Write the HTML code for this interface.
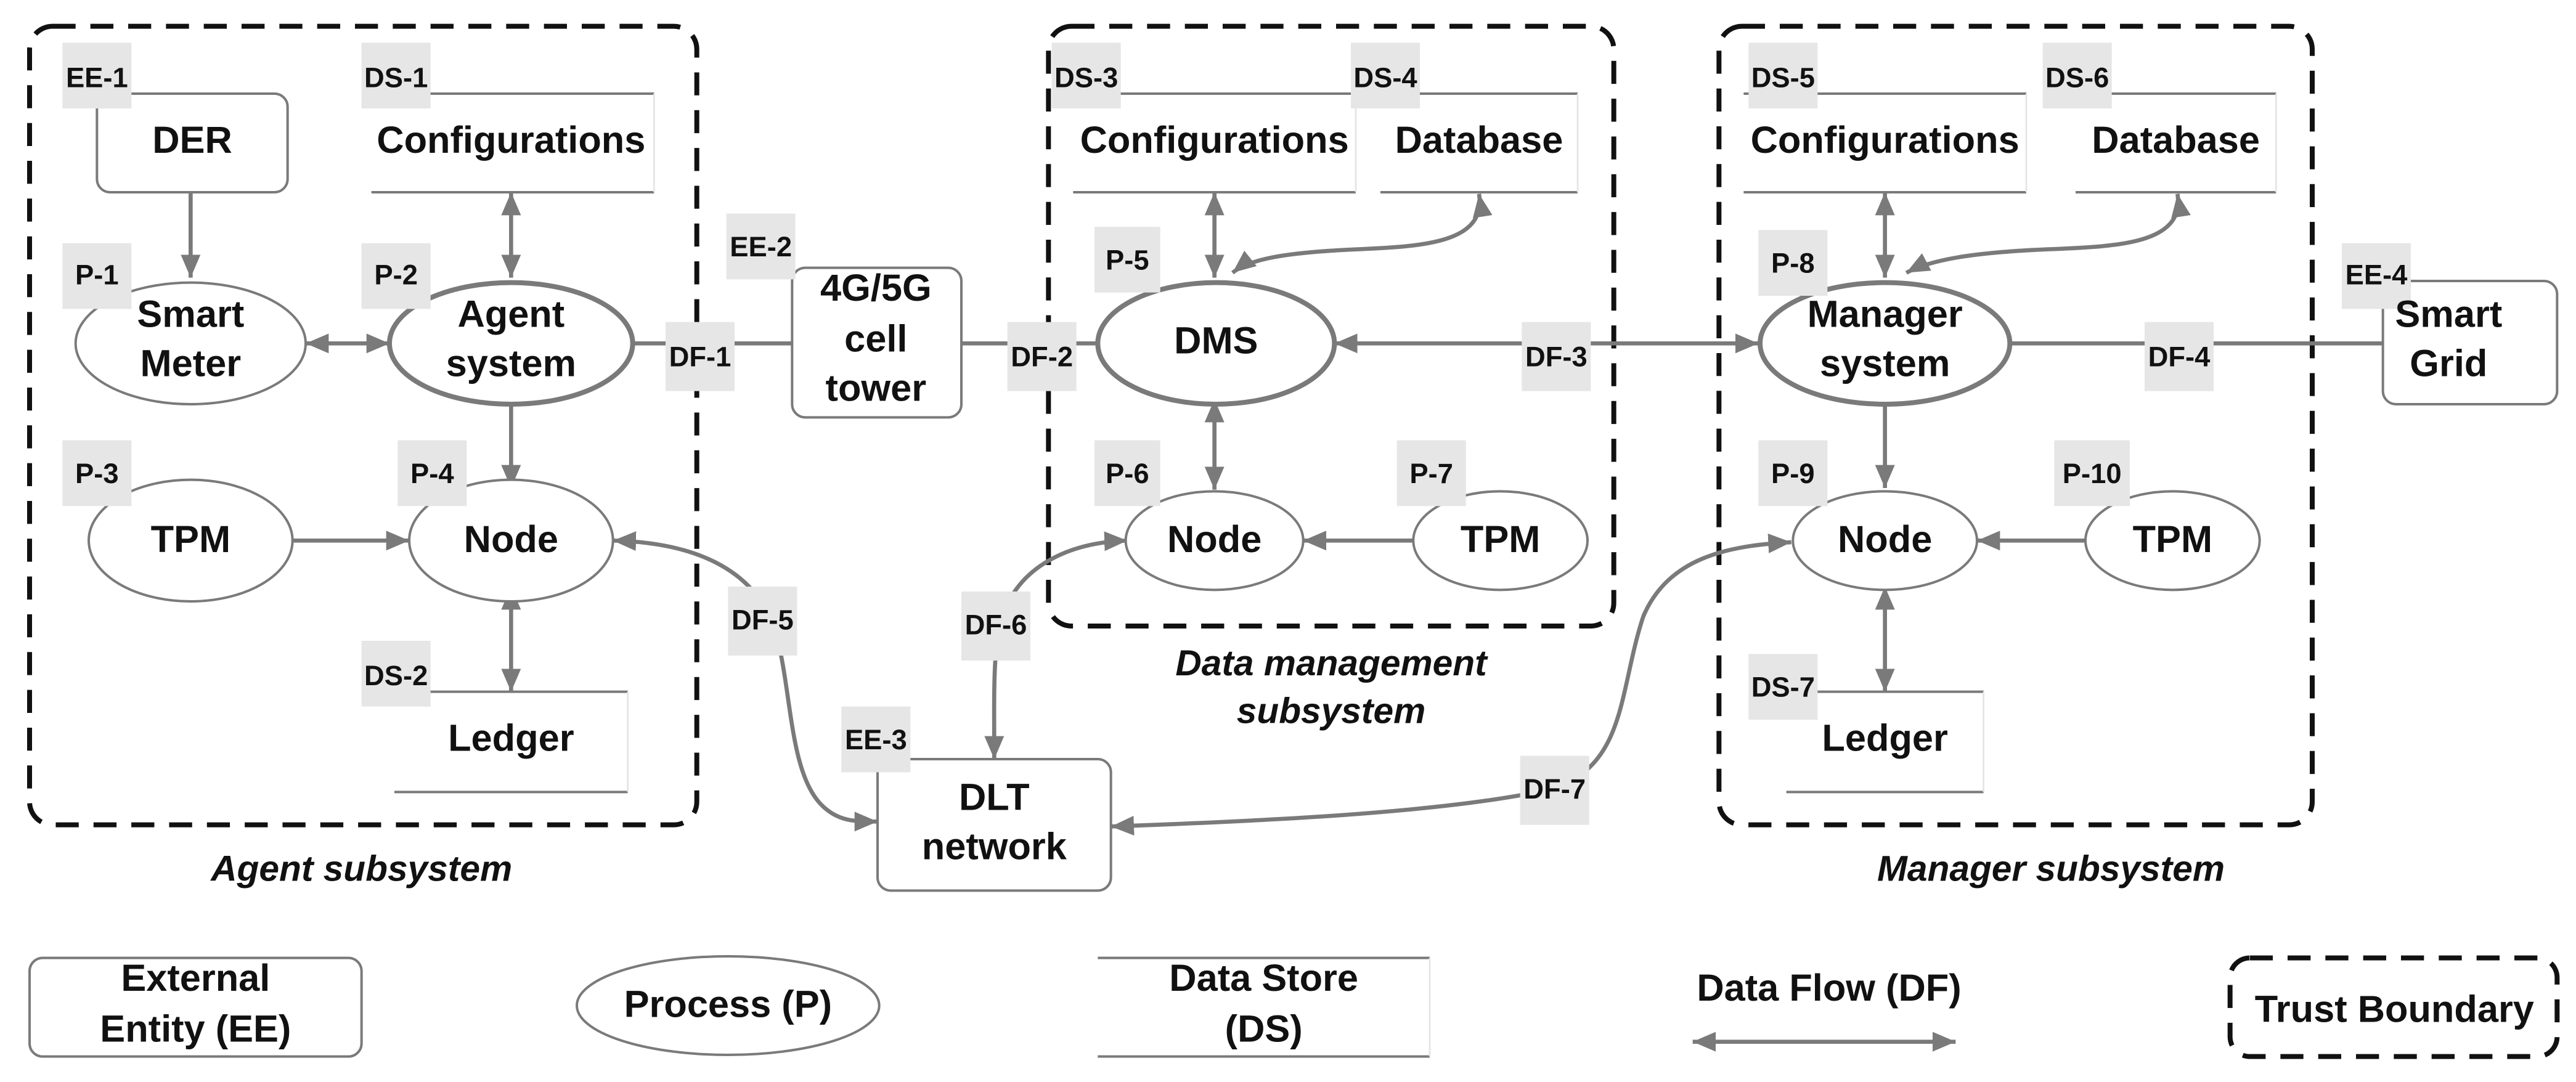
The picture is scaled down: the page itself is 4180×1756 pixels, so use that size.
<!DOCTYPE html>
<html><head><meta charset="utf-8"><style>html,body{margin:0;padding:0;background:#fff}svg{display:block}</style></head>
<body>
<svg width="4180" height="1756" viewBox="0 0 1567.5 658.5" xmlns="http://www.w3.org/2000/svg" font-family="Liberation Sans, Arial, sans-serif" font-weight="bold">
<defs>
<marker id="a" viewBox="0 0 14 12" refX="14" refY="6" markerWidth="14" markerHeight="12" markerUnits="userSpaceOnUse" orient="auto-start-reverse"><path d="M0,0 L14,6 L0,12 z" fill="#7a7a7a"/></marker>
</defs>
<rect width="1567.5" height="658.5" fill="#fff"/>
<g fill="none" stroke="#111" stroke-width="3" stroke-dasharray="14,9">
<rect x="18" y="16" width="406" height="486" rx="14"/>
<rect x="638" y="16" width="344" height="365" rx="14"/>
<rect x="1046" y="16" width="361" height="486" rx="14"/>
<rect x="1357" y="583" width="199" height="60" rx="12"/>
</g>
<g font-style="italic" font-size="22" text-anchor="middle" fill="#111">
<text x="220" y="536">Agent subsystem</text>
<text x="810" y="411">Data management</text>
<text x="810" y="440">subsystem</text>
<text x="1248" y="536">Manager subsystem</text>
</g>
<g fill="none" stroke="#7a7a7a" stroke-width="2.5">
<path d="M116,117 V169" marker-end="url(#a)"/>
<path d="M311,117 V169" marker-start="url(#a)" marker-end="url(#a)"/>
<path d="M186,209 H237" marker-start="url(#a)" marker-end="url(#a)"/>
<path d="M311,243 V297" marker-end="url(#a)"/>
<path d="M178,329 H249" marker-end="url(#a)"/>
<path d="M311,357 V421" marker-start="url(#a)" marker-end="url(#a)"/>
<path d="M385,209 H482"/>
<path d="M585,209 H668"/>
<path d="M739,117 V169" marker-start="url(#a)" marker-end="url(#a)"/>
<path d="M900,118 C905,150 860,150 820,152 C780,154 760,158 750,166" marker-start="url(#a)" marker-end="url(#a)"/>
<path d="M739,243 V298" marker-start="url(#a)" marker-end="url(#a)"/>
<path d="M860,329 H793" marker-end="url(#a)"/>
<path d="M812,209 H1070" marker-start="url(#a)" marker-end="url(#a)"/>
<path d="M1147,117 V169" marker-start="url(#a)" marker-end="url(#a)"/>
<path d="M1325,118 C1330,150 1285,150 1240,152 C1200,154 1175,158 1160,166" marker-start="url(#a)" marker-end="url(#a)"/>
<path d="M1147,243 V297" marker-end="url(#a)"/>
<path d="M1269,329 H1203" marker-end="url(#a)"/>
<path d="M1147,357 V421" marker-start="url(#a)" marker-end="url(#a)"/>
<path d="M1222,209 H1450"/>
<path d="M373,329 C420,330 460,345 472,385 C482,420 480,470 500,490 C510,500 520,500 534,500" marker-start="url(#a)" marker-end="url(#a)"/>
<path d="M686,329 C650,330 620,345 610,375 C604,395 605,420 605,462" marker-start="url(#a)" marker-end="url(#a)"/>
<path d="M676,503 C760,500 880,495 945,480 C990,465 985,420 1000,375 C1015,340 1050,332 1090,330" marker-start="url(#a)" marker-end="url(#a)"/>
<path d="M1030,634 H1190" marker-start="url(#a)" marker-end="url(#a)"/>
</g>
<g fill="#fff" stroke="#7a7a7a" stroke-width="1.5">
<rect x="59" y="57" width="116" height="60" rx="8"/>
<rect x="482" y="163" width="103" height="91" rx="8"/>
<rect x="1450" y="171" width="106" height="75" rx="8"/>
<rect x="534" y="462" width="142" height="80" rx="8"/>
<rect x="18" y="583" width="202" height="60" rx="8"/>
</g>
<g stroke="#7a7a7a" stroke-width="1.5">
<path d="M226,57 H398 M226,117 H398"/>
<path d="M240,421 H382 M240,482 H382"/>
<path d="M653,57 H825 M653,117 H825"/>
<path d="M840,57 H960 M840,117 H960"/>
<path d="M1061,57 H1233 M1061,117 H1233"/>
<path d="M1263,57 H1385 M1263,117 H1385"/>
<path d="M1087,421 H1207 M1087,482 H1207"/>
<path d="M668,583 H870 M668,643 H870"/>
</g>
<g fill="none" stroke="#e4e4e4" stroke-width="1">
<path d="M398,57 V117 M382,421 V482 M825,57 V117 M960,57 V117 M1233,57 V117 M1385,57 V117 M1207,421 V482 M870,583 V643"/>
</g>
<g fill="#fff" stroke="#7a7a7a">
<ellipse cx="116" cy="209" rx="70" ry="37" stroke-width="1.5"/>
<ellipse cx="311" cy="209" rx="74" ry="37" stroke-width="3"/>
<ellipse cx="116" cy="329" rx="62" ry="37" stroke-width="1.5"/>
<ellipse cx="311" cy="329" rx="62" ry="37" stroke-width="1.5"/>
<ellipse cx="740" cy="209" rx="72" ry="37" stroke-width="3"/>
<ellipse cx="739" cy="329" rx="54" ry="30" stroke-width="1.5"/>
<ellipse cx="913" cy="329" rx="53" ry="30" stroke-width="1.5"/>
<ellipse cx="1147" cy="209" rx="76" ry="37" stroke-width="3"/>
<ellipse cx="1147" cy="329" rx="56" ry="30" stroke-width="1.5"/>
<ellipse cx="1322" cy="329" rx="53" ry="30" stroke-width="1.5"/>
<ellipse cx="443" cy="612" rx="92" ry="30" stroke-width="1.5"/>
</g>
<g fill="#e6e6e6">
<rect x="38" y="26" width="42" height="40"/>
<rect x="220" y="26" width="42" height="40"/>
<rect x="38" y="148" width="42" height="40"/>
<rect x="220" y="148" width="42" height="40"/>
<rect x="38" y="268" width="42" height="40"/>
<rect x="242" y="268" width="42" height="40"/>
<rect x="220" y="390" width="42" height="40"/>
<rect x="442" y="130" width="42" height="40"/>
<rect x="405" y="196" width="42" height="42"/>
<rect x="613" y="196" width="42" height="42"/>
<rect x="640" y="26" width="42" height="40"/>
<rect x="822" y="26" width="42" height="40"/>
<rect x="666" y="138" width="40" height="40"/>
<rect x="666" y="268" width="40" height="40"/>
<rect x="850" y="268" width="42" height="40"/>
<rect x="926" y="196" width="42" height="42"/>
<rect x="1064" y="26" width="42" height="40"/>
<rect x="1243" y="26" width="42" height="40"/>
<rect x="1070" y="140" width="42" height="40"/>
<rect x="1425" y="148" width="42" height="40"/>
<rect x="1305" y="196" width="42" height="42"/>
<rect x="1070" y="268" width="42" height="40"/>
<rect x="1250" y="268" width="46" height="40"/>
<rect x="1064" y="398" width="42" height="40"/>
<rect x="512" y="430" width="42" height="40"/>
<rect x="443" y="357" width="42" height="42"/>
<rect x="585" y="360" width="42" height="42"/>
<rect x="925" y="460" width="42" height="42"/>
</g>
<g font-size="17" text-anchor="middle" fill="#111">
<text x="59" y="53">EE-1</text>
<text x="241" y="53">DS-1</text>
<text x="59" y="173">P-1</text>
<text x="241" y="173">P-2</text>
<text x="59" y="294">P-3</text>
<text x="263" y="294">P-4</text>
<text x="241" y="417">DS-2</text>
<text x="463" y="156">EE-2</text>
<text x="426" y="223">DF-1</text>
<text x="634" y="223">DF-2</text>
<text x="661" y="53">DS-3</text>
<text x="843" y="53">DS-4</text>
<text x="686" y="164">P-5</text>
<text x="686" y="294">P-6</text>
<text x="871" y="294">P-7</text>
<text x="947" y="223">DF-3</text>
<text x="1085" y="53">DS-5</text>
<text x="1264" y="53">DS-6</text>
<text x="1091" y="166">P-8</text>
<text x="1446" y="173">EE-4</text>
<text x="1326" y="223">DF-4</text>
<text x="1091" y="294">P-9</text>
<text x="1273" y="294">P-10</text>
<text x="1085" y="424">DS-7</text>
<text x="533" y="456">EE-3</text>
<text x="464" y="383">DF-5</text>
<text x="606" y="386">DF-6</text>
<text x="946" y="486">DF-7</text>
</g>
<g font-size="23" text-anchor="middle" fill="#111">
<text x="117" y="93">DER</text>
<text x="311" y="93">Configurations</text>
<text x="116" y="199">Smart</text>
<text x="116" y="229">Meter</text>
<text x="311" y="199">Agent</text>
<text x="311" y="229">system</text>
<text x="116" y="336">TPM</text>
<text x="311" y="336">Node</text>
<text x="311" y="457">Ledger</text>
<text x="533" y="183">4G/5G</text>
<text x="533" y="214">cell</text>
<text x="533" y="244">tower</text>
<text x="739" y="93">Configurations</text>
<text x="900" y="93">Database</text>
<text x="740" y="215">DMS</text>
<text x="739" y="336">Node</text>
<text x="913" y="336">TPM</text>
<text x="1147" y="93">Configurations</text>
<text x="1324" y="93">Database</text>
<text x="1147" y="199">Manager</text>
<text x="1147" y="229">system</text>
<text x="1490" y="199">Smart</text>
<text x="1490" y="229">Grid</text>
<text x="1147" y="336">Node</text>
<text x="1322" y="336">TPM</text>
<text x="1147" y="457">Ledger</text>
<text x="605" y="493">DLT</text>
<text x="605" y="523">network</text>
<text x="119" y="603">External</text>
<text x="119" y="634">Entity (EE)</text>
<text x="443" y="619">Process (P)</text>
<text x="769" y="603">Data Store</text>
<text x="769" y="634">(DS)</text>
<text x="1113" y="609">Data Flow (DF)</text>
<text x="1457" y="622">Trust Boundary</text>
</g>
</svg>
</body></html>
